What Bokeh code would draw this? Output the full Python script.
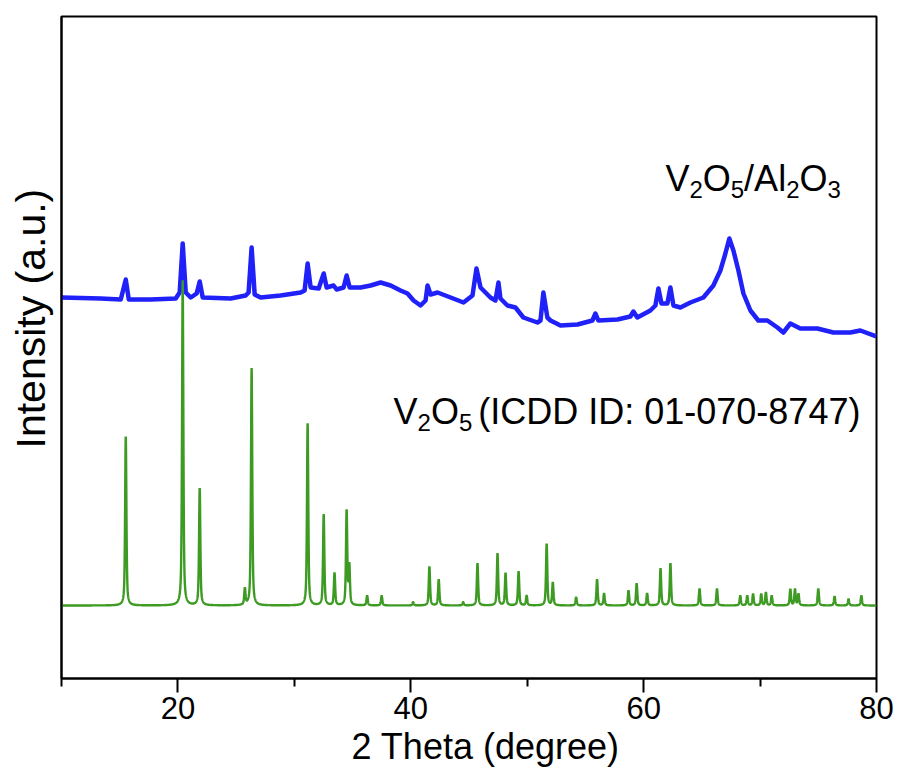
import numpy as np
from bokeh.plotting import figure
from bokeh.models import Range1d, FixedTicker, Title
from bokeh.core.properties import value
from bokeh.embed import file_html
from bokeh.resources import INLINE

# ---------------- data ----------------
# Reference pattern V2O5 (ICDD 01-070-8747): peak positions (2theta) and relative intensities (%)
ref_theta = [15.52, 20.41, 21.87, 25.75, 26.33, 31.14, 32.52, 33.45, 34.49, 34.72,
             36.25, 37.50, 40.20, 41.60, 42.40, 44.50, 45.73, 47.45, 48.14, 49.26,
             49.95, 51.67, 52.20, 54.20, 56.00, 56.60, 58.70, 59.40, 60.30, 61.45,
             62.30, 64.80, 66.30, 68.30, 68.90, 69.40, 70.10, 70.50, 71.00, 72.60,
             73.00, 73.30, 75.00, 76.40, 77.60, 78.70]
ref_rel = [52, 100, 36, 5, 73, 56, 28, 10, 29, 12,
           3, 3, 1, 12, 8, 1, 13, 16, 10, 10.5,
           3, 19, 7, 2.5, 8, 3.7, 4.6, 6.8, 3.7, 11.4,
           13, 5.2, 5.2, 3, 3, 3.5, 3.5, 4, 3, 5,
           5, 3.5, 5.2, 2.8, 2, 3]

# Measured pattern V2O5/Al2O3 (a.u.)
blue_theta = [10.00, 13.37, 15.09, 15.52, 15.78, 17.67, 19.81, 20.15, 20.41, 20.67,
              21.10, 21.61, 21.87, 22.13, 24.53, 25.82, 26.07, 26.33, 26.59, 27.10,
              28.82, 30.54, 30.88, 31.14, 31.40, 32.09, 32.52, 32.77, 33.37, 33.63,
              34.23, 34.49, 34.75, 35.69, 36.55, 37.41, 38.27, 39.12, 39.72, 40.24,
              40.84, 41.27, 41.44, 41.70, 42.30, 43.42, 44.53, 45.30, 45.64, 45.99,
              46.84, 47.27, 47.53, 47.70, 48.30, 48.99, 49.67, 50.88, 51.14, 51.39,
              51.73, 52.00, 52.86, 54.32, 55.60, 55.86, 56.11, 57.75, 58.86, 59.12,
              59.46, 60.58, 61.01, 61.27, 61.53, 62.04, 62.30, 62.56, 63.16, 64.02,
              65.13, 65.99, 66.59, 67.02, 67.36, 67.71, 68.14, 68.57, 69.17, 69.85,
              70.63, 71.49, 72.00, 72.60, 73.46, 74.92, 76.30, 77.75, 78.61, 79.98]
blue_int = [308, 307, 306, 326, 306, 306, 307, 313, 362, 313,
            308, 312, 324, 308, 307, 310, 313, 358, 311, 308,
            310, 313, 315, 342, 318, 317, 332, 318, 320, 316,
            318, 330, 318, 318, 320, 323, 320, 315, 312, 305,
            300, 305, 320, 311, 313, 308, 303, 310, 337, 318,
            308, 305, 323, 307, 300, 298, 288, 283, 285, 313,
            288, 285, 280, 281, 285, 292, 285, 286, 289, 294,
            288, 295, 300, 317, 302, 302, 318, 300, 298, 303,
            308, 320, 335, 352, 367, 355, 335, 312, 295, 285,
            285, 278, 273, 282, 277, 277, 273, 273, 275, 269]

x_ticks = [20, 40, 60, 80]
x_minor = [10, 30, 50, 70]

# ---------------- styling ----------------
FONT = "Liberation Sans"
BLUE = "#2020f8"
GREEN = "#3d9a22"
REF_SCALE = 3.25   # display units per % of reference intensity
FWHM = 0.13
ETA = 0.6

# reference profile built from the peak list
grid = np.round(np.arange(10.0, 80.0001, 0.01), 2)
prof = np.zeros_like(grid)
for t, r in zip(ref_theta, ref_rel):
    d = grid - t
    lor = 1.0 / (1.0 + (2 * d / FWHM) ** 2)
    gau = np.exp(-4 * np.log(2) * (d / FWHM) ** 2)
    prof += r * REF_SCALE * (ETA * lor + (1 - ETA) * gau)

p = figure(frame_width=815, frame_height=662,
           x_range=Range1d(10, 80), y_range=Range1d(-73, 589),
           output_backend="svg", toolbar_location=None,
           min_border_left=61, min_border_top=16, min_border_right=23, min_border_bottom=98,
           background_fill_color="white", border_fill_color="white")

p.line(blue_theta, blue_int, line_color=BLUE, line_width=4.5, line_join="round")
p.line(grid, prof, line_color=GREEN, line_width=2.4)

p.xgrid.grid_line_color = None
p.ygrid.grid_line_color = None
p.outline_line_color = "black"
p.outline_line_width = 2
p.outline_line_alpha = 1

xa = p.xaxis[0]
xa.ticker = FixedTicker(ticks=x_ticks, minor_ticks=x_minor)
xa.axis_line_width = 2
xa.major_tick_line_width = 2
xa.minor_tick_line_width = 2
xa.major_tick_out = 14
xa.major_tick_in = 0
xa.minor_tick_out = 8
xa.minor_tick_in = 0
xa.major_label_text_font = FONT
xa.major_label_text_font_size = "31px"
xa.major_label_text_color = "black"
xa.major_label_standoff = 4

ya = p.yaxis[0]
ya.ticker = FixedTicker(ticks=[])
ya.axis_line_width = 2
ya.major_tick_line_color = None
ya.minor_tick_line_color = None
ya.major_tick_out = 0
ya.minor_tick_out = 0
ya.major_label_standoff = 0
ya.major_label_text_font_size = "0px"

# axis titles placed where the original has them
p.add_layout(Title(text="2 Theta (degree)", align="left", offset=290, vertical_align="bottom",
                   standoff=4, text_font=FONT, text_font_size="36px",
                   text_font_style="normal", text_color="black"), "below")
p.add_layout(Title(text="Intensity (a.u.)", align="left", offset=230, vertical_align="middle",
                   standoff=13, text_font=FONT, text_font_size="41px",
                   text_font_style="normal", text_color="black"), "left")

# ---------------- annotations with subscripts ----------------
W = {"V": .667, "O": .778, "/": .278, "A": .667, "l": .222, " ": .278, "(": .333, ")": .333,
     "I": .278, "C": .722, "D": .722, ":": .278, "-": .333}
for d in "0123456789":
    W[d] = .556


def tw(s, size):
    return sum(W[c] for c in s) * size


def rich(x, y, pieces, size, sub_size, sub_drop, gap=0.0):
    off = 0.0
    for txt, sub in pieces:
        if txt == "":
            off += gap
            continue
        fs = sub_size if sub else size
        p.text(x=[x], y=[y], text=[txt], x_offset=off, y_offset=(sub_drop if sub else 0),
               text_font=value(FONT), text_font_size=f"{fs}px", text_color="black",
               text_align="left", text_baseline="alphabetic")
        off += tw(txt, fs)


rich(61.87, 427, [("V", 0), ("2", 1), ("O", 0), ("5", 1), ("/Al", 0), ("2", 1), ("O", 0), ("3", 1)],
     36, 24, 11)
rich(38.52, 194, [("V", 0), ("2", 1), ("O", 0), ("5", 1), ("", 0), ("(ICDD ID: 01-070-8747)", 0)],
     36, 24, 11, gap=6)

open("out.html", "w").write(file_html(p, INLINE))
